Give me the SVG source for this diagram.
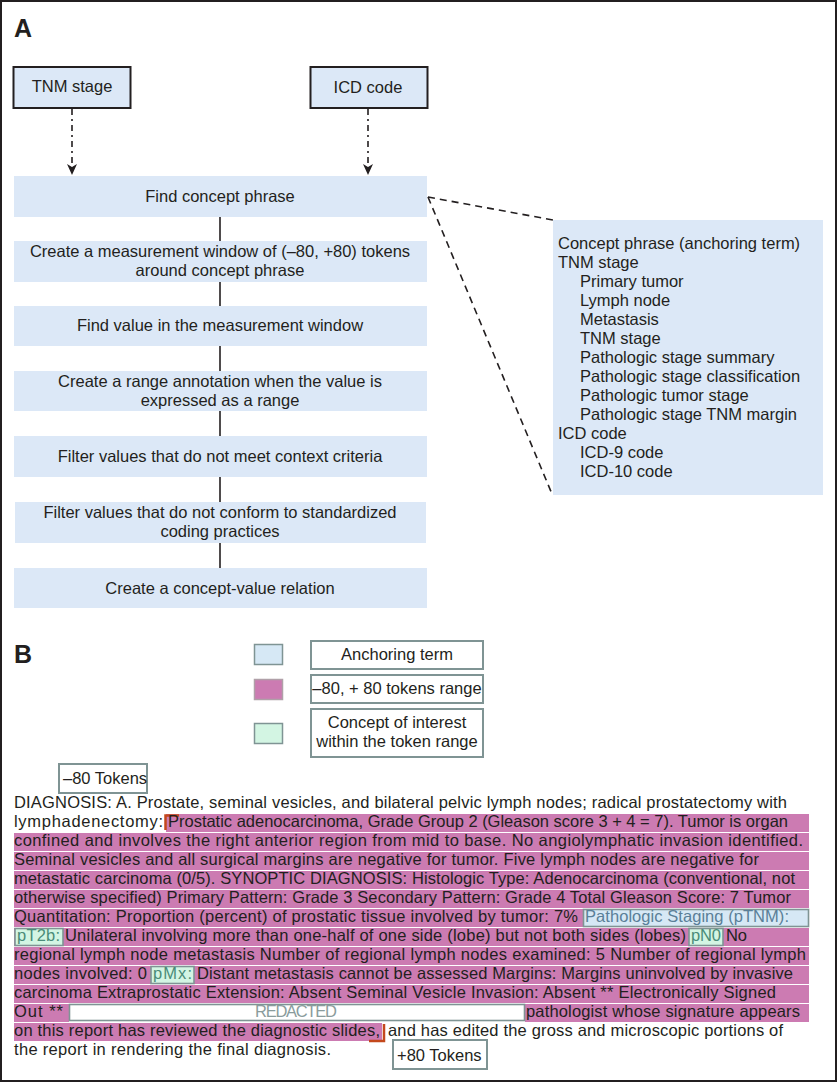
<svg xmlns="http://www.w3.org/2000/svg" width="837" height="1083" viewBox="0 0 837 1083">
<style>
text{font-family:"Liberation Sans",Arial,sans-serif;fill:#231f20;font-size:16.5px}
.lbl{font-size:25px;font-weight:bold}
.c{text-anchor:middle}
.fbox{fill:#dce8f7}
.tbox{fill:#dce8f7;stroke:#231f20;stroke-width:2}
.conn{stroke:#231f20;stroke-width:1.6;fill:none}
.dd{stroke:#231f20;stroke-width:1.6;fill:none;stroke-dasharray:6 4 2 4}
.dash{stroke:#231f20;stroke-width:1.6;fill:none;stroke-dasharray:7 5}
.lgb{fill:#fff;stroke:#7f9494;stroke-width:2}
.pink{fill:#cc7bb2}
.anc{fill:#d6e8f5;stroke:#7f9494;stroke-width:1.6}
.coi{fill:#d3f5e3;stroke:#7f9494;stroke-width:1.6}
.br{stroke:#c4481c;stroke-width:2.5;fill:none}
.ta{fill:#5a7f98}
.tg{fill:#4a8c78}
</style>
<rect x="1" y="1" width="835" height="1080" fill="#fff" stroke="#231f20" stroke-width="2"/>
<text class="lbl" x="14" y="37">A</text>
<text class="lbl" x="14" y="663">B</text>

<g id="connectors">
<line class="dd" x1="72" y1="109" x2="72" y2="166"/>
<path d="M67,164 L72,175 L77,164 L72,167 Z" fill="#231f20"/>
<line class="dd" x1="368" y1="109" x2="368" y2="166"/>
<path d="M363,164 L368,175 L373,164 L368,167 Z" fill="#231f20"/>
<line class="conn" x1="220" y1="217" x2="220" y2="241"/>
<line class="conn" x1="220" y1="282" x2="220" y2="306"/>
<line class="conn" x1="220" y1="346" x2="220" y2="371"/>
<line class="conn" x1="220" y1="411" x2="220" y2="436"/>
<line class="conn" x1="220" y1="477" x2="220" y2="502"/>
<line class="conn" x1="220" y1="543" x2="220" y2="568"/>
<line class="dash" x1="428" y1="197" x2="553" y2="220"/>
<line class="dash" x1="428" y1="197" x2="552" y2="494"/>
</g>

<g id="tnm"><rect class="tbox" x="13.5" y="67" width="117" height="41"/><text class="c" x="72" y="92">TNM stage</text></g>
<g id="icd"><rect class="tbox" x="310.5" y="67" width="117" height="41"/><text class="c" x="368" y="93">ICD code</text></g>

<g id="step1"><rect class="fbox" x="14" y="176" width="413" height="41"/><text class="c" x="220" y="202">Find concept phrase</text></g>
<g id="step2"><rect class="fbox" x="14" y="241" width="413" height="41"/><text class="c" x="220" y="257">Create a measurement window of (–80, +80) tokens</text><text class="c" x="220" y="276">around concept phrase</text></g>
<g id="step3"><rect class="fbox" x="14" y="306" width="413" height="40"/><text class="c" x="220" y="331">Find value in the measurement window</text></g>
<g id="step4"><rect class="fbox" x="14" y="371" width="413" height="40"/><text class="c" x="220" y="387">Create a range annotation when the value is</text><text class="c" x="220" y="406">expressed as a range</text></g>
<g id="step5"><rect class="fbox" x="14" y="436" width="413" height="41"/><text class="c" x="220" y="462">Filter values that do not meet context criteria</text></g>
<g id="step6"><rect class="fbox" x="15" y="502" width="411" height="41"/><text class="c" x="220" y="518">Filter values that do not conform to standardized</text><text class="c" x="220" y="537">coding practices</text></g>
<g id="step7"><rect class="fbox" x="14" y="568" width="413" height="40"/><text class="c" x="220" y="594">Create a concept-value relation</text></g>

<g id="concepts">
<rect class="fbox" x="553" y="220" width="270" height="275"/>
<text x="558" y="249">Concept phrase (anchoring term)</text>
<text x="558" y="268">TNM stage</text>
<text x="580" y="287">Primary tumor</text>
<text x="580" y="306">Lymph node</text>
<text x="580" y="325">Metastasis</text>
<text x="580" y="344">TNM stage</text>
<text x="580" y="363">Pathologic stage summary</text>
<text x="580" y="382">Pathologic stage classification</text>
<text x="580" y="401">Pathologic tumor stage</text>
<text x="580" y="420">Pathologic stage TNM margin</text>
<text x="558" y="439">ICD code</text>
<text x="580" y="458">ICD-9 code</text>
<text x="580" y="477">ICD-10 code</text>
</g>

<g id="legend">
<rect x="254.5" y="644.5" width="28" height="20" fill="#d6e8f5" stroke="#7f9494" stroke-width="1.5"/>
<rect x="254.5" y="679.5" width="28" height="20" fill="#cc7bb2" stroke="#b0a0a8" stroke-width="1.5"/>
<rect x="254.5" y="723.5" width="28" height="20" fill="#d3f5e3" stroke="#7f9494" stroke-width="1.5"/>
<rect class="lgb" x="311" y="641" width="172" height="28"/>
<text class="c" x="397" y="660">Anchoring term</text>
<rect class="lgb" x="311" y="675" width="172" height="28"/>
<text class="c" x="397" y="694">–80, + 80 tokens range</text>
<rect class="lgb" x="311" y="709" width="172" height="48"/>
<text class="c" x="397" y="728">Concept of interest</text>
<text class="c" x="397" y="747">within the token range</text>
</g>

<g id="minus80"><rect class="lgb" x="59" y="764" width="88" height="29"/><text x="63" y="784">–80 Tokens</text></g>
<g id="plus80"><rect class="lgb" x="393" y="1040" width="94" height="29"/><text x="397" y="1061">+80 Tokens</text></g>

<g id="report">
<rect class="pink" x="166" y="814" width="643" height="18"/>
<rect class="pink" x="14" y="833" width="795" height="18"/>
<rect class="pink" x="14" y="852" width="795" height="18"/>
<rect class="pink" x="14" y="871" width="795" height="18"/>
<rect class="pink" x="14" y="890" width="795" height="18"/>
<rect class="pink" x="14" y="909" width="795" height="18"/>
<rect class="pink" x="14" y="928" width="795" height="18"/>
<rect class="pink" x="14" y="947" width="795" height="18"/>
<rect class="pink" x="14" y="966" width="795" height="18"/>
<rect class="pink" x="14" y="985" width="795" height="18"/>
<rect class="pink" x="14" y="1004" width="55" height="18"/>
<rect class="pink" x="525" y="1004" width="284" height="18"/>
<rect class="pink" x="14" y="1023" width="368" height="18"/>
<rect class="anc" x="583.5" y="909.5" width="225" height="17"/>
<rect class="coi" x="15" y="928.5" width="48" height="17"/>
<rect class="coi" x="689" y="928.5" width="34" height="17"/>
<rect class="coi" x="151" y="966.5" width="43" height="17"/>
<rect x="69.5" y="1004.5" width="455" height="16" fill="#fff" stroke="#7f9494" stroke-width="1.6"/>
<path class="br" d="M179,815.5 L165.5,815.5 L165.5,830"/>
<path class="br" d="M369,1041 L384,1041 L384,1024"/>

<text x="14" y="808" textLength="773" lengthAdjust="spacing">DIAGNOSIS: A. Prostate, seminal vesicles, and bilateral pelvic lymph nodes; radical prostatectomy with</text>
<text x="14" y="827" textLength="149" lengthAdjust="spacing">lymphadenectomy:</text>
<text x="168" y="827" textLength="620" lengthAdjust="spacing">Prostatic adenocarcinoma, Grade Group 2 (Gleason score 3 + 4 = 7). Tumor is organ</text>
<text x="14" y="846" textLength="789" lengthAdjust="spacing">confined and involves the right anterior region from mid to base. No angiolymphatic invasion identified.</text>
<text x="14" y="865" textLength="745" lengthAdjust="spacing">Seminal vesicles and all surgical margins are negative for tumor. Five lymph nodes are negative for</text>
<text x="14" y="884" textLength="781" lengthAdjust="spacing">metastatic carcinoma (0/5). SYNOPTIC DIAGNOSIS: Histologic Type: Adenocarcinoma (conventional, not</text>
<text x="14" y="903" textLength="777" lengthAdjust="spacing">otherwise specified) Primary Pattern: Grade 3 Secondary Pattern: Grade 4 Total Gleason Score: 7 Tumor</text>
<text x="14" y="922" textLength="564" lengthAdjust="spacing">Quantitation: Proportion (percent) of prostatic tissue involved by tumor: 7%</text>
<text class="ta" x="585" y="922" textLength="204" lengthAdjust="spacing">Pathologic Staging (pTNM):</text>
<text class="tg" x="17" y="941" textLength="43" lengthAdjust="spacing">pT2b:</text>
<text x="65" y="941" textLength="621" lengthAdjust="spacing">Unilateral involving more than one-half of one side (lobe) but not both sides (lobes)</text>
<text class="tg" x="691" y="941" textLength="30" lengthAdjust="spacing">pN0</text>
<text x="726" y="941" textLength="21" lengthAdjust="spacing">No</text>
<text x="14" y="960" textLength="792" lengthAdjust="spacing">regional lymph node metastasis Number of regional lymph nodes examined: 5 Number of regional lymph</text>
<text x="14" y="979" textLength="133" lengthAdjust="spacing">nodes involved: 0</text>
<text class="tg" x="153" y="979" textLength="39" lengthAdjust="spacing">pMx:</text>
<text x="197" y="979" textLength="596" lengthAdjust="spacing">Distant metastasis cannot be assessed Margins: Margins uninvolved by invasive</text>
<text x="14" y="998" textLength="762" lengthAdjust="spacing">carcinoma Extraprostatic Extension: Absent Seminal Vesicle Invasion: Absent ** Electronically Signed</text>
<text x="14" y="1017" textLength="49" lengthAdjust="spacing">Out **</text>
<text x="296" y="1017" class="c" style="fill:#8a9c9c" textLength="82" lengthAdjust="spacing">REDACTED</text>
<text x="526" y="1017" textLength="274" lengthAdjust="spacing">pathologist whose signature appears</text>
<text x="14" y="1036" textLength="366" lengthAdjust="spacing">on this report has reviewed the diagnostic slides,</text>
<text x="388" y="1036" textLength="395" lengthAdjust="spacing">and has edited the gross and microscopic portions of</text>
<text x="14" y="1055" textLength="317" lengthAdjust="spacing">the report in rendering the final diagnosis.</text>
</g>
</svg>
